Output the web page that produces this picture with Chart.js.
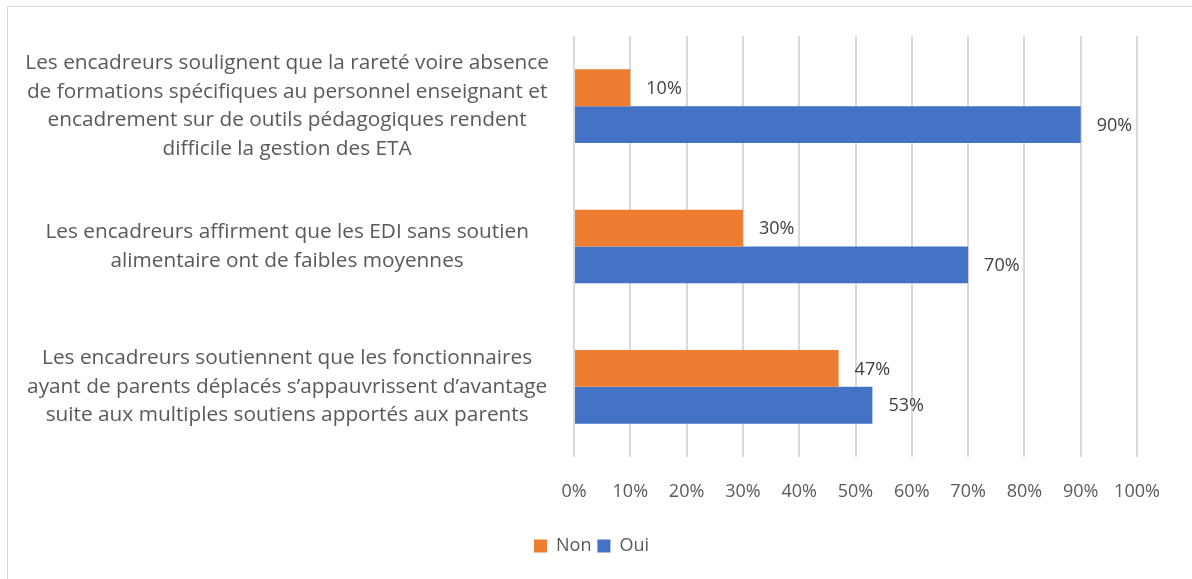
<!DOCTYPE html>
<html>
<head>
<meta charset="utf-8">
<script src="https://cdn.jsdelivr.net/npm/chart.js@4"></script>
<style>
    html, body { margin: 0; padding: 0; background: #fff; overflow: hidden; }
    #frame { position: absolute; left: 7px; top: 6px; width: 1200px; height: 600px; border: 1px solid #d9d9d9; }
    #wrap { position: absolute; left: 0; top: 0; width: 1192px; height: 579px; }
</style>
</head>
<body>
<div id="frame"></div>
<div id="wrap"><canvas id="chart" width="1192" height="579"></canvas></div>
<script>
const categories = [
    ['Les encadreurs soulignent que la rareté voire absence',
     'de formations spécifiques au personnel enseignant et',
     'encadrement sur de outils pédagogiques rendent',
     'difficile la gestion des ETA'],
    ['Les encadreurs affirment que les EDI sans soutien',
     'alimentaire ont de faibles moyennes'],
    ['Les encadreurs soutiennent que les fonctionnaires',
     'ayant de parents déplacés s\u2019appauvrissent d\u2019avantage',
     'suite aux multiples soutiens apportés aux parents']
];
const nonValues = [10, 30, 47];
const ouiValues = [90, 70, 53];
const xTicks = [0, 10, 20, 30, 40, 50, 60, 70, 80, 90, 100];

const fontFamily = '"Open Sans", Lato, sans-serif';

// labels drawn at the end of each bar
const valueLabels = {
    id: 'valueLabels',
    afterDatasetsDraw(chart) {
        const ctx = chart.ctx;
        ctx.save();
        ctx.font = '18px ' + fontFamily;
        ctx.fillStyle = '#404040';
        ctx.textAlign = 'left';
        ctx.textBaseline = 'middle';
        chart.data.datasets.forEach((ds, i) => {
            const meta = chart.getDatasetMeta(i);
            meta.data.forEach((bar, j) => {
                ctx.fillText(ds.data[j] + '%', bar.x + 16, bar.y + 1);
            });
        });
        ctx.restore();
    }
};

// nudge the legend a bit to the right, like the original
const legendShift = {
    id: 'legendShift',
    afterLayout(chart) {
        chart.legend.left += 18;
        chart.legend.right += 18;
    }
};

new Chart(document.getElementById('chart'), {
    type: 'bar',
    data: {
        labels: categories,
        datasets: [{
            label: 'Non',
            data: nonValues,
            backgroundColor: '#ed7d31',
            categoryPercentage: 0.525,
            barPercentage: 1
        }, {
            label: 'Oui',
            data: ouiValues,
            backgroundColor: '#4472c4',
            categoryPercentage: 0.525,
            barPercentage: 1
        }]
    },
    options: {
        indexAxis: 'y',
        responsive: false,
        animation: false,
        layout: { padding: { left: 10, right: 55, top: 36, bottom: 14 } },
        scales: {
            x: {
                min: 0,
                max: 100,
                afterBuildTicks: scale => { scale.ticks = xTicks.map(v => ({ value: v })); },
                grid: { color: '#d9d9d9', lineWidth: 2, drawTicks: false },
                border: { display: false },
                ticks: {
                    font: { family: fontFamily, size: 18 },
                    color: '#595959',
                    padding: 24,
                    maxRotation: 0,
                    callback: v => v + '%'
                },
                afterFit: scale => {
                    scale.height = 74;
                    scale.paddingLeft = 0;
                    scale.paddingRight = 0;
                }
            },
            y: {
                grid: { display: false },
                border: { display: false },
                ticks: {
                    font: { family: fontFamily, size: 20.8, lineHeight: 1.37 },
                    color: '#595959',
                    padding: 17,
                    crossAlign: 'center'
                },
                afterFit: scale => {
                    scale.width = 564;
                    scale.paddingTop = 0;
                    scale.paddingBottom = 0;
                }
            }
        },
        plugins: {
            legend: {
                position: 'bottom',
                labels: {
                    boxWidth: 13,
                    boxHeight: 13,
                    color: '#595959',
                    font: { family: fontFamily, size: 18 },
                    padding: 6
                }
            },
            tooltip: { enabled: false }
        }
    },
    plugins: [valueLabels, legendShift]
});
</script>
</body>
</html>
